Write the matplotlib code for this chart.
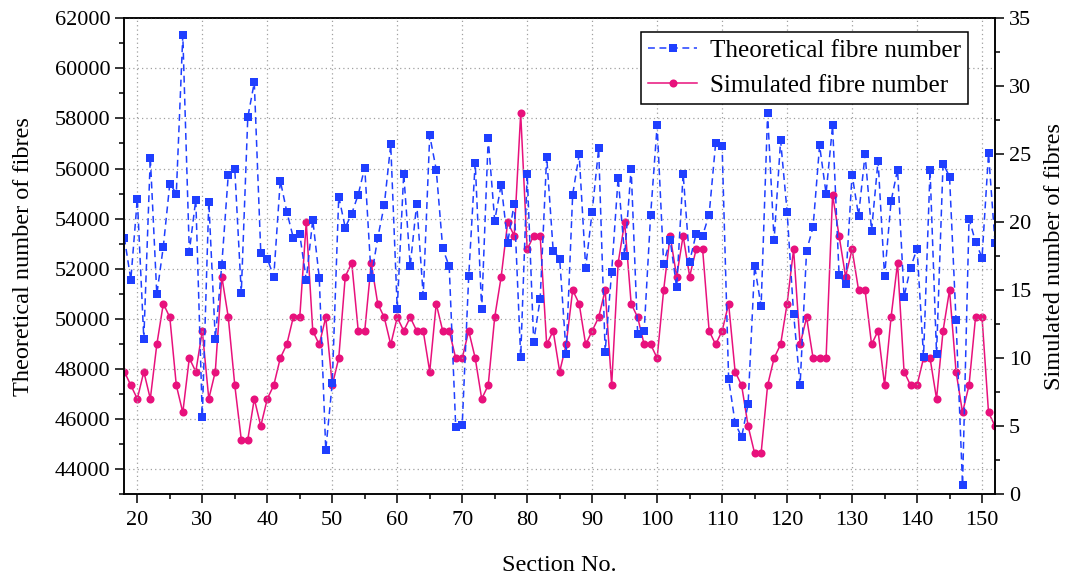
import matplotlib
matplotlib.use("Agg")
import matplotlib.pyplot as plt
from matplotlib.ticker import MultipleLocator

plt.rcParams['font.family'] = ['Liberation Serif', 'DejaVu Serif']
plt.rcParams['mathtext.fontset'] = 'stix'

# Section numbers along the yarn
sections = list(range(18, 153))

# Theoretical fibre number per section (left axis)
theoretical = [
    53240, 51560, 54800, 49200, 56440, 50970, 52880, 55400, 55000, 61320,  # 18-27
    52680, 54760, 46090, 54680, 49200, 52160, 55760, 55970, 51040, 58040,  # 28-37
    59440, 52640, 52400, 51680, 55520, 54280, 53240, 53370, 51560, 53960,  # 38-47
    51640, 44760, 47430, 54880, 53640, 54200, 54960, 56040, 51640, 53230,  # 48-57
    54530, 56960, 50400, 55800, 52120, 54600, 50920, 57320, 55960, 52810,  # 58-67
    52090, 45690, 45760, 51690, 56240, 50370, 57200, 53920, 55360, 53040,  # 68-77
    54600, 48480, 55800, 49080, 50800, 56480, 52720, 52400, 48600, 54960,  # 78-87
    56560, 52040, 54280, 56800, 48690, 51880, 55640, 52520, 56000, 49400,  # 88-97
    49520, 54160, 57720, 52200, 53160, 51250, 55800, 52280, 53400, 53320,  # 98-107
    54160, 57000, 56880, 47600, 45840, 45270, 46600, 52120, 50490, 58200,  # 108-117
    53130, 57120, 54280, 50200, 47350, 52720, 53670, 56920, 55000, 57720,  # 118-127
    51760, 51400, 55760, 54120, 56560, 53520, 56320, 51690, 54690, 55960,  # 128-137
    50880, 52040, 52800, 48490, 55960, 48600, 56200, 55680, 49930, 43360,  # 138-147
    54000, 53070, 52440, 56600, 53040,                                     # 148-152
]

# Simulated fibre number per section (right axis)
simulated = [
    9, 8, 7, 9, 7, 11, 14, 13, 8, 6,        # 18-27
    10, 9, 12, 7, 9, 16, 13, 8, 4, 4,       # 28-37
    7, 5, 7, 8, 10, 11, 13, 13, 20, 12,     # 38-47
    11, 13, 8, 10, 16, 17, 12, 12, 17, 14,  # 48-57
    13, 11, 13, 12, 13, 12, 12, 9, 14, 12,  # 58-67
    12, 10, 10, 12, 10, 7, 8, 13, 16, 20,   # 68-77
    19, 28, 18, 19, 19, 11, 12, 9, 11, 15,  # 78-87
    14, 11, 12, 13, 15, 8, 17, 20, 14, 13,  # 88-97
    11, 11, 10, 15, 19, 16, 19, 16, 18, 18, # 98-107
    12, 11, 12, 14, 9, 8, 5, 3, 3, 8,       # 108-117
    10, 11, 14, 18, 11, 13, 10, 10, 10, 22, # 118-127
    19, 16, 18, 15, 15, 11, 12, 8, 13, 17,  # 128-137
    9, 8, 8, 10, 10, 7, 12, 15, 9, 6,       # 138-147
    8, 13, 13, 6, 5,                        # 148-152
]

blue = '#1F3FFF'
pink = '#E8117C'

fig = plt.figure(figsize=(10.69, 5.79), dpi=100)
ax = fig.add_axes([0.1163, 0.1468, 0.8145, 0.8216])
ax2 = ax.twinx()

# keep the theoretical series drawn above the simulated one
ax.set_zorder(ax2.get_zorder() + 1)
ax.patch.set_visible(False)

l1, = ax.plot(sections, theoretical, color=blue, linestyle=(0, (4.5, 3)), linewidth=1.1,
              marker='s', markersize=5.2, markeredgewidth=0, markerfacecolor=blue,
              label='Theoretical fibre number')
l2, = ax2.plot(sections, simulated, color=pink, linestyle='-', linewidth=1.1,
               marker='o', markersize=5.8, markeredgewidth=0, markerfacecolor=pink,
               label='Simulated fibre number')

ax.set_xlim(18, 152)
ax.set_ylim(43000, 62000)
ax2.set_ylim(0, 35)

ax.xaxis.set_major_locator(MultipleLocator(10))
ax.xaxis.set_minor_locator(MultipleLocator(5))
ax.yaxis.set_major_locator(MultipleLocator(2000))
ax.yaxis.set_minor_locator(MultipleLocator(1000))
ax2.yaxis.set_major_locator(MultipleLocator(5))
ax2.yaxis.set_minor_locator(MultipleLocator(2.5))

ax.grid(True, which='major', color='#a0a0a0', linestyle=(0, (1, 2.5)), linewidth=0.9)

for a in (ax, ax2):
    a.tick_params(which='major', direction='out', length=6.5, width=1.1, labelsize=16)
    a.tick_params(which='minor', direction='out', length=3.8, width=1.1)
    for s in a.spines.values():
        s.set_linewidth(1.1)
ax.tick_params(axis='y', which='both', right=False)
ax.tick_params(axis='x', which='major', pad=6)

ax.set_xlabel('Section No.', fontsize=17.5, labelpad=18)
ax.set_ylabel('Theoretical number of fibres', fontsize=17.5, labelpad=15)
ax2.set_ylabel('Simulated number of fibres', fontsize=17.5, labelpad=9)

leg = ax.legend(handles=[l1, l2], loc='upper right', bbox_to_anchor=(0.969, 0.972),
                borderaxespad=0, fontsize=18, frameon=True, fancybox=False,
                edgecolor='black', framealpha=1, handlelength=1.95, handletextpad=0.5,
                borderpad=0.3, labelspacing=0.5)
leg.get_frame().set_linewidth(1.1)

fig.savefig('out.png', dpi=100)
